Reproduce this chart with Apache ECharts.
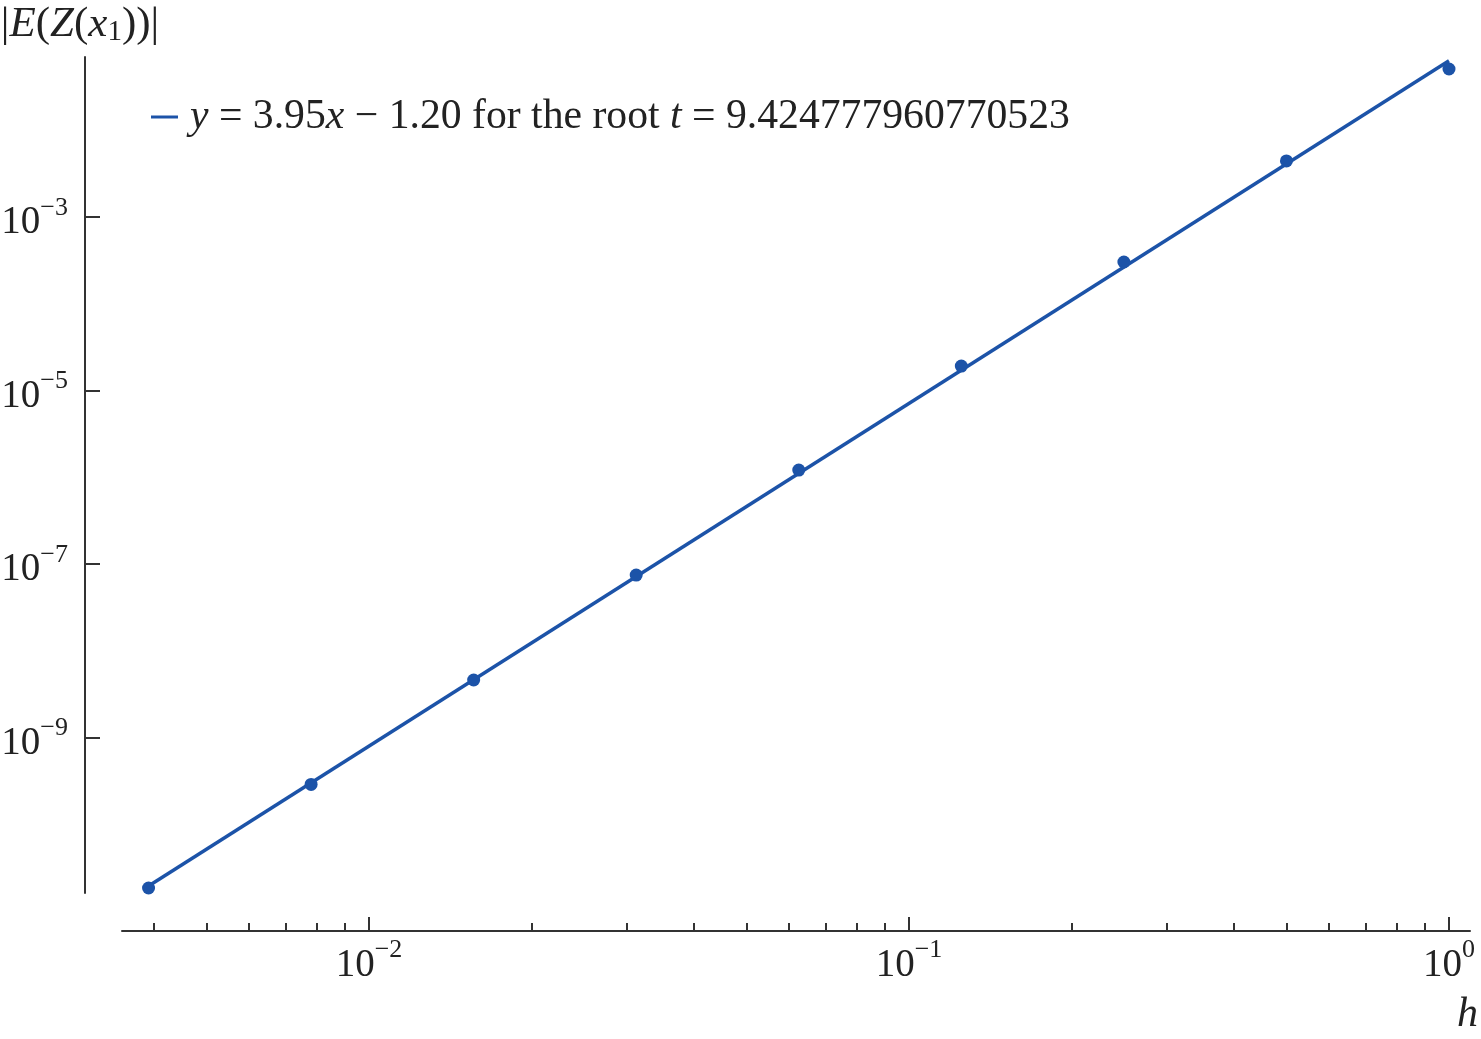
<!DOCTYPE html>
<html>
<head>
<meta charset="utf-8">
<script src="https://cdn.jsdelivr.net/npm/echarts@6/dist/echarts.min.js"></script>
<style>
  html, body { margin: 0; padding: 0; background: #fff; }
  #chart { width: 1481px; height: 1039px; }
</style>
</head>
<body>
<div id="chart"></div>
<script>
// ---- data ----
const stepSizes = [1/256, 1/128, 1/64, 1/32, 1/16, 1/8, 1/4, 1/2, 1];
const errors = [1.84e-11, 2.88e-10, 4.60e-9, 7.46e-8, 1.21e-6, 1.91e-5, 3.03e-4, 4.43e-3, 5.08e-2];
const fitH = [1/256, 1];
const fitErr = [1.94e-11, 6.31e-2];
const xMajorExps = [-2, -1, 0];
const xMinorValues = [0.004, 0.005, 0.006, 0.007, 0.008, 0.009,
  0.02, 0.03, 0.04, 0.05, 0.06, 0.07, 0.08, 0.09,
  0.2, 0.3, 0.4, 0.5, 0.6, 0.7, 0.8, 0.9];
const yMajorExps = [-3, -5, -7, -9];
const legendLabel = '{i|y} = 3.95{i|x} − 1.20 for the root {i|t} = 9.424777960770523';

const FONT = '"Liberation Serif", "Times New Roman", serif';
const BLUE = '#1c53a8';
const INK = '#222';
const AXIS = '#333';

const lg = Math.log10;
const pointData = stepSizes.map((h, i) => [lg(h), lg(errors[i])]);
const fitData = fitH.map((h, i) => [lg(h), lg(fitErr[i])]);

const X_MIN = -2.4574, X_MAX = 0.0389;
const Y_MIN = -10.7925, Y_MAX = -1.1556;

function powLabel(v) {
  const e = Math.round(v);
  const s = e < 0 ? '−' + (-e) : String(e);
  return '{b|10}{s|' + s + '}';
}
const powRich = {
  b: { fontFamily: FONT, fontSize: 39, color: INK, padding: [12, 0, 0, 0] },
  s: { fontFamily: FONT, fontSize: 26, color: INK, padding: [0, 0, 18, 0] }
};

const chart = echarts.init(document.getElementById('chart'), null, { renderer: 'canvas' });
chart.setOption({
  animation: false,
  backgroundColor: '#fff',
  grid: { left: 122, right: 11, top: 57, bottom: 146, containLabel: false, outerBoundsMode: 'none' },
  legend: {
    data: ['fit'],
    left: 151, top: 96, padding: 0,
    itemWidth: 27, itemHeight: 3, icon: 'rect',
    formatter: () => legendLabel,
    textStyle: {
      fontFamily: FONT, fontSize: 41.7, color: INK, padding: [0, 0, 0, 7],
      rich: {
        i: { fontFamily: FONT, fontSize: 41.7, fontStyle: 'italic', color: INK }
      }
    }
  },
  xAxis: [
    {
      type: 'value', min: X_MIN, max: X_MAX, offset: 38, position: 'bottom',
      axisLine: { show: true, onZero: false, lineStyle: { color: AXIS, width: 2 } },
      axisTick: { show: true, inside: true, length: 14, lineStyle: { color: AXIS, width: 2 },
        customValues: xMajorExps },
      axisLabel: { show: true, margin: 3, customValues: xMajorExps,
        formatter: powLabel, rich: powRich },
      splitLine: { show: false },
      name: 'h', nameLocation: 'end', nameGap: 8,
      nameTextStyle: { fontFamily: FONT, fontSize: 42, fontStyle: 'italic', color: INK,
        align: 'right', verticalAlign: 'top', padding: [63, 0, 0, 0] }
    },
    {
      type: 'value', min: X_MIN, max: X_MAX, offset: 38, position: 'bottom',
      axisLine: { show: false, onZero: false },
      axisTick: { show: true, inside: true, length: 8, lineStyle: { color: AXIS, width: 2 },
        customValues: xMinorValues.map(lg) },
      axisLabel: { show: false },
      splitLine: { show: false }
    }
  ],
  yAxis: {
    type: 'value', min: Y_MIN, max: Y_MAX, offset: 37, position: 'left',
    axisLine: { show: true, onZero: false, lineStyle: { color: AXIS, width: 2 } },
    axisTick: { show: true, inside: true, length: 15, lineStyle: { color: AXIS, width: 2 },
      customValues: yMajorExps },
    axisLabel: { show: true, margin: 17, customValues: yMajorExps,
      formatter: powLabel, rich: powRich },
    splitLine: { show: false },
    name: '{p||}{i|E}{p|(}{i|Z}{p|(}{i|x}{sub|1}{p|))|}',
    nameLocation: 'end', nameGap: 10,
    nameTextStyle: {
      align: 'center', verticalAlign: 'bottom', padding: [0, 10, 0, 0],
      rich: {
        p: { fontFamily: FONT, fontSize: 43, color: INK },
        i: { fontFamily: FONT, fontSize: 43, fontStyle: 'italic', color: INK },
        sub: { fontFamily: FONT, fontSize: 29, color: INK, padding: [16, 0, 0, 0] }
      }
    }
  },
  series: [
    {
      name: 'fit', type: 'line', data: fitData, xAxisIndex: 0,
      showSymbol: false, symbol: 'none',
      lineStyle: { color: BLUE, width: 3.5 }, itemStyle: { color: BLUE },
      z: 2
    },
    {
      name: 'points', type: 'scatter', data: pointData, xAxisIndex: 0,
      symbol: 'circle', symbolSize: 13,
      itemStyle: { color: BLUE, opacity: 1 }, z: 3
    }
  ]
});
</script>
</body>
</html>
